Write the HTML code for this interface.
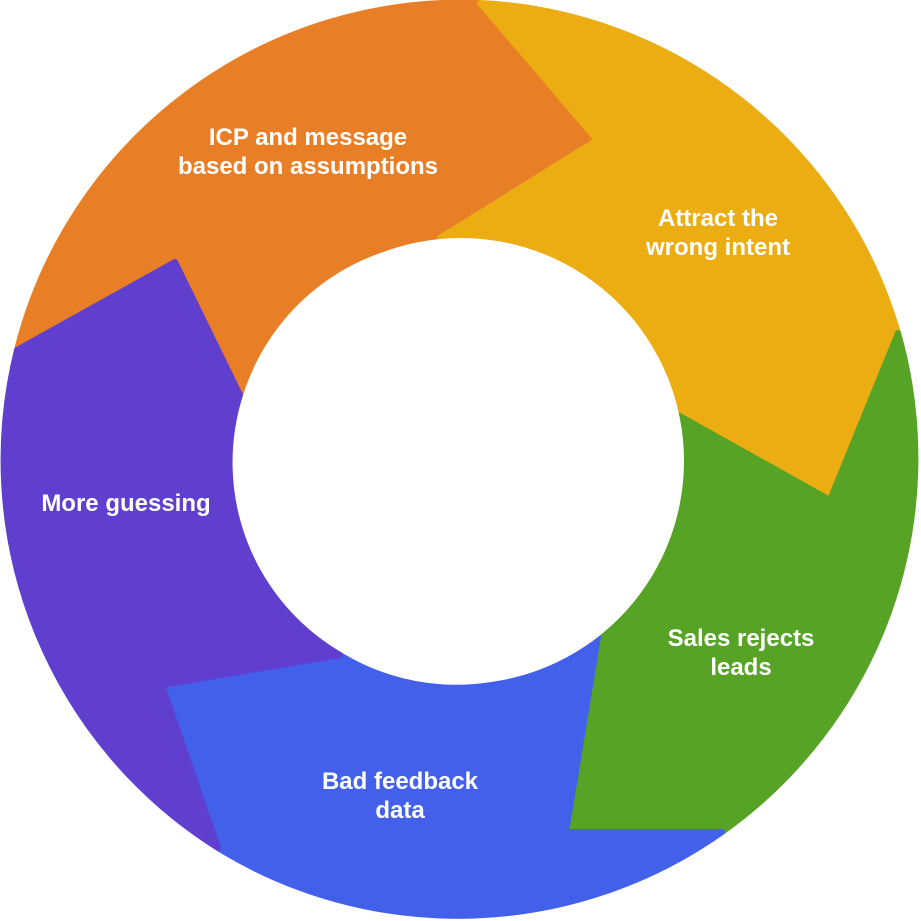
<!DOCTYPE html>
<html><head><meta charset="utf-8"><style>
html,body{margin:0;padding:0;background:#fff;}
svg{display:block;}
text{font-family:"Liberation Sans",sans-serif;font-weight:bold;font-size:24px;fill:#fff;text-anchor:middle;}
</style></head><body>
<svg width="921" height="921" viewBox="0 0 921 921">
<g stroke-linejoin="round" stroke-width="6">
<path d="M17 350 A458 458 0 0 1 480 3 L597 140 L440 238 A223 223 0 0 0 240 395 L175 262 Z" fill="#E87E26" stroke="#E87E26"/>
<path d="M480 3 A458 458 0 0 1 898 333 L830 500 L678 415 A223 223 0 0 0 440 238 L597 140 Z" fill="#ECAD12" stroke="#ECAD12"/>
<path d="M898 333 A458 458 0 0 1 722 832 L566 832 L598 637 A223 223 0 0 0 678 415 L830 500 Z" fill="#56A326" stroke="#56A326"/>
<path d="M722 832 A458 458 0 0 1 218 848 L162 685 L340 655 A223 223 0 0 0 598 637 L566 832 Z" fill="#4260EA" stroke="#4260EA"/>
<path d="M218 848 A458 458 0 0 1 17 350 L175 262 L240 395 A223 223 0 0 0 340 655 L162 685 Z" fill="#613FCE" stroke="#613FCE"/>
</g>
<circle cx="461" cy="461" r="223" fill="#fff"/>
<text x="308" y="145">ICP and message</text>
<text x="308" y="174">based on assumptions</text>
<text x="718" y="226">Attract the</text>
<text x="718" y="255">wrong intent</text>
<text x="741" y="646">Sales rejects</text>
<text x="741" y="675">leads</text>
<text x="400" y="789">Bad feedback</text>
<text x="400" y="818">data</text>
<text x="126" y="511">More guessing</text>
</svg>
</body></html>
